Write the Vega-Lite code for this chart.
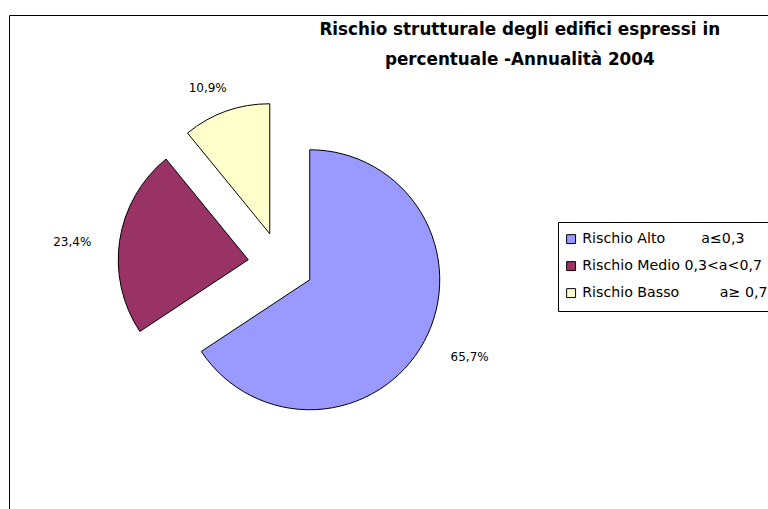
{
  "$schema": "https://vega.github.io/schema/vega-lite/v6.json",
  "width": 758.5,
  "height": 493.5,
  "autosize": "none",
  "padding": {"left": 9.5, "top": 15.5, "right": 0, "bottom": 0},
  "background": "white",
  "config": {
    "view": {"stroke": null},
    "font": "DejaVu Sans"
  },
  "title": {
    "text": ["Rischio strutturale degli edifici espressi in", "percentuale -Annualità 2004"],
    "anchor": "middle",
    "frame": "group",
    "orient": "top",
    "baseline": "top",
    "offset": 0,
    "dx": 131,
    "dy": 54,
    "fontSize": 16.8,
    "fontWeight": "bold",
    "lineHeight": 30,
    "color": "black",
    "font": "DejaVu Sans"
  },
  "data": {
    "values": [
      {"cat": "Rischio Alto\u00a0\u00a0\u00a0\u00a0\u00a0\u00a0\u00a0\u00a0a≤0,3", "value": 65.7, "order": 1},
      {"cat": "Rischio Medio 0,3<a<0,7", "value": 23.4, "order": 2},
      {"cat": "Rischio Basso\u00a0\u00a0\u00a0\u00a0\u00a0\u00a0\u00a0\u00a0\u00a0a≥ 0,7", "value": 10.9, "order": 3}
    ]
  },
  "transform": [
    {"window": [{"op": "sum", "field": "value", "as": "end"}], "sort": [{"field": "order"}], "frame": [null, 0]},
    {"calculate": "datum.end - datum.value", "as": "start"},
    {"calculate": "datum.end - datum.value / 2", "as": "mid"},
    {"calculate": "replace(format(datum.value, '.1f'), '.', ',') + '%'", "as": "label"}
  ],
  "encoding": {
    "color": {
      "field": "cat",
      "type": "nominal",
      "scale": {
        "domain": [
          "Rischio Alto\u00a0\u00a0\u00a0\u00a0\u00a0\u00a0\u00a0\u00a0a≤0,3",
          "Rischio Medio 0,3<a<0,7",
          "Rischio Basso\u00a0\u00a0\u00a0\u00a0\u00a0\u00a0\u00a0\u00a0\u00a0a≥ 0,7"
        ],
        "range": ["#9999FF", "#993366", "#FFFFCC"]
      },
      "legend": {
        "orient": "none",
        "legendX": 548.5,
        "legendY": 206.5,
        "title": null,
        "strokeColor": "black",
        "fillColor": "white",
        "padding": 10,
        "symbolType": "square",
        "symbolSize": 80,
        "symbolOffset": -4,
        "symbolStrokeColor": "black",
        "symbolStrokeWidth": 1,
        "symbolOpacity": 1,
        "labelFontSize": 14.2,
        "labelFont": "DejaVu Sans",
        "labelColor": "black",
        "labelLimit": 400,
        "labelOffset": 4,
        "rowPadding": 12
      }
    }
  },
  "layer": [
    {
      "transform": [{"filter": "datum.order == 1"}],
      "mark": {"type": "rect", "filled": false, "strokeWidth": 1, "strokeDash": [758.5, 1252, 493.5, 0]},
      "encoding": {"color": {"value": "black"}}
    },
    {
      "transform": [{"filter": "datum.order == 1"}],
      "layer": [
        {
          "mark": {"type": "arc", "outerRadius": 130, "stroke": "black", "strokeWidth": 1, "opacity": 1, "xOffset": -79, "yOffset": 17.5},
          "encoding": {
            "theta": {"field": "start", "type": "quantitative", "scale": {"domain": [0, 100]}},
            "theta2": {"field": "end"}
          }
        },
        {
          "mark": {"type": "text", "radius": 177, "fontSize": 12, "font": "DejaVu Sans", "color": "black", "dx": -75, "dy": 10.5},
          "encoding": {
            "theta": {"field": "mid", "type": "quantitative", "stack": null},
            "text": {"field": "label"},
            "color": {"value": "black"}
          }
        }
      ]
    },
    {
      "transform": [{"filter": "datum.order == 2"}],
      "layer": [
        {
          "mark": {"type": "arc", "outerRadius": 130, "stroke": "black", "strokeWidth": 1, "opacity": 1, "xOffset": -140.5, "yOffset": -2.5},
          "encoding": {
            "theta": {"field": "start", "type": "quantitative", "scale": {"domain": [0, 100]}},
            "theta2": {"field": "end"}
          }
        },
        {
          "mark": {"type": "text", "radius": 177, "fontSize": 12, "font": "DejaVu Sans", "color": "black", "dx": -141.5, "dy": 6.5},
          "encoding": {
            "theta": {"field": "mid", "type": "quantitative", "stack": null},
            "text": {"field": "label"},
            "color": {"value": "black"}
          }
        }
      ]
    },
    {
      "transform": [{"filter": "datum.order == 3"}],
      "layer": [
        {
          "mark": {"type": "arc", "outerRadius": 130, "stroke": "black", "strokeWidth": 1, "opacity": 1, "xOffset": -119, "yOffset": -28.5},
          "encoding": {
            "theta": {"field": "start", "type": "quantitative", "scale": {"domain": [0, 100]}},
            "theta2": {"field": "end"}
          }
        },
        {
          "mark": {"type": "text", "radius": 158, "fontSize": 12, "font": "DejaVu Sans", "color": "black", "dx": -128, "dy": -25.5},
          "encoding": {
            "theta": {"field": "mid", "type": "quantitative", "stack": null},
            "text": {"field": "label"},
            "color": {"value": "black"}
          }
        }
      ]
    }
  ]
}
